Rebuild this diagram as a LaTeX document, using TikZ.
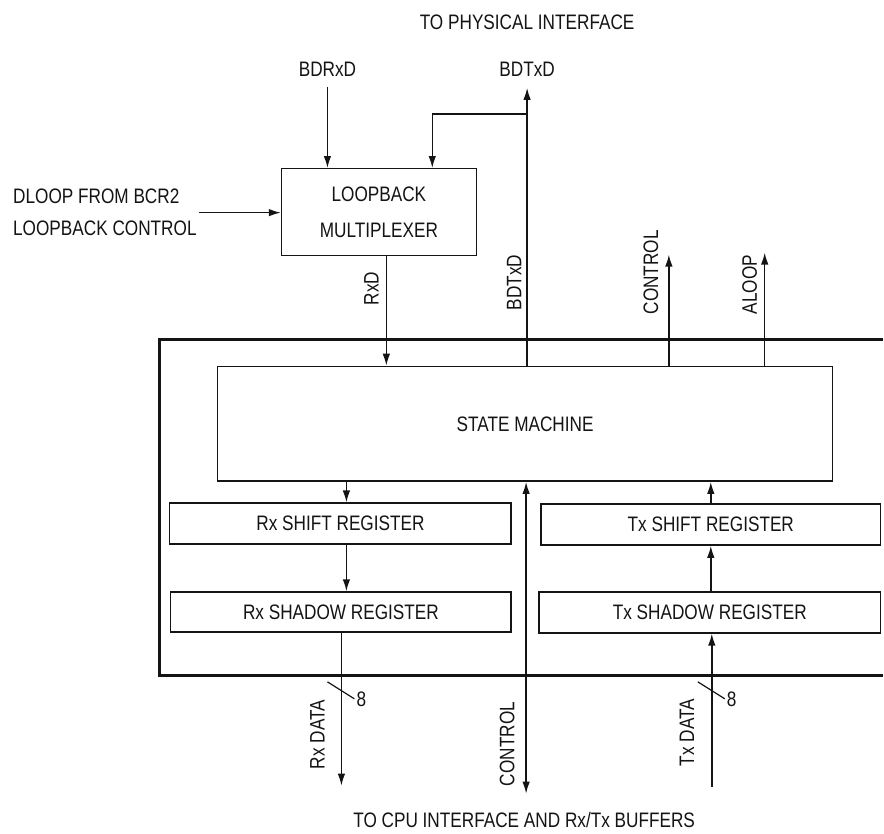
\documentclass[tikz,border=0pt]{standalone}
\usepackage{fontspec}
\setmainfont{Liberation Sans}[FakeStretch=0.82]
\usetikzlibrary{arrows.meta,calc,positioning}
\definecolor{blkInk}{HTML}{141414}

\begin{document}
\begin{tikzpicture}[x=1pt,y=-1pt,>={Latex[length=12pt,width=7.5pt]},line cap=butt,line join=miter]
\path[fill=white] (0,0) rectangle (884,835);
\tikzset{wire/.style={draw=blkInk,line width=1.5pt},arr/.style={wire,->},dblarr/.style={wire,<->},frame/.style={draw=blkInk,line width=3pt},blk/.style={draw=blkInk,line width=1.4pt,fill=white,inner sep=0pt,font=\fontsize{21}{36}\selectfont,text=blkInk,align=center},lbl/.style={inner sep=0pt,font=\fontsize{21}{32}\selectfont,text=blkInk,align=left},vlbl/.style={lbl,rotate=90}}
% outer frame, open on the right
\draw[frame] (884,340) -- (160,340) -- (160,677) -- (884,677);
% blocks
\node[blk,minimum width=195pt,minimum height=87pt] (mux) at (379.5,212.5) {LOOPBACK\\MULTIPLEXER};
\node[blk,minimum width=616pt,minimum height=115pt] (sm) at (526,424.5) {STATE MACHINE};
\node[blk,minimum width=342pt,minimum height=41pt] (rxsh) at (341,524.5) {Rx SHIFT REGISTER};
\node[blk,minimum width=341pt,minimum height=40pt] (rxsd) at (341.5,613) {Rx SHADOW REGISTER};
\node[blk,minimum width=340pt,minimum height=41pt] (txsh) at (712,525.5) {Tx SHIFT REGISTER};
\node[blk,minimum width=342pt,minimum height=41pt] (txsd) at (711,613.5) {Tx SHADOW REGISTER};
% texts
\node[lbl] (phys) at (528,22) {TO PHYSICAL INTERFACE};
\node[lbl] (cpu) at (525,821) {TO CPU INTERFACE AND Rx/Tx BUFFERS};
\node[lbl] (bdrxd) at (328,69) {BDRxD};
\node[lbl] (bdtxd) at (528,69) {BDTxD};
\node[lbl,anchor=west] (dloop) at (13,197) {DLOOP FROM BCR2};
\node[lbl,anchor=west] (lbctl) at (13,229) {LOOPBACK CONTROL};
\node[vlbl,anchor=west] (rxdlbl) at (372,306) {RxD};
\node[vlbl,anchor=west] (bdtxdv) at (515,311) {BDTxD};
\node[vlbl,anchor=west] (ctltop) at (652,315) {CONTROL};
\node[vlbl,anchor=west] (aloop) at (751,315) {ALOOP};
\node[vlbl,anchor=east] (rxdata) at (318,701) {Rx DATA};
\node[vlbl,anchor=east] (ctlbot) at (508,703) {CONTROL};
\node[vlbl,anchor=east] (txdata) at (688,700) {Tx DATA};
\node[lbl,anchor=west] (rxw) at (357,700) {8};
\node[lbl,anchor=west] (txw) at (728,700) {8};
% free ends and bus positions
\coordinate (rxin) at (328,87);
\coordinate (txout) at (528,88);
\coordinate (tap) at (528,114);
\coordinate (lbk) at (433,0);
\coordinate (dlin) at (199,213);
\coordinate (rxd) at (387,0);
\coordinate (ctlup) at (670,255);
\coordinate (alup) at (766,253);
\coordinate (rxbus) at (347,0);
\coordinate (rxout) at (342,787);
\coordinate (ctlend) at (527,795);
\coordinate (txin) at (713,788);
% connectors
\draw[arr] (rxin) -- (rxin |- mux.north);
\draw[arr] (txout |- sm.north) -- (txout);
\draw[arr] (tap) -| (lbk |- mux.north);
\draw[arr] (dlin) -- (dlin -| mux.west);
\draw[arr] (rxd |- mux.south) -- (rxd |- sm.north);
\draw[arr] (ctlup |- sm.north) -- (ctlup);
\draw[arr] (alup |- sm.north) -- (alup);
\draw[arr] (rxbus |- sm.south) -- (rxbus |- rxsh.north);
\draw[arr] (rxbus |- rxsh.south) -- (rxbus |- rxsd.north);
\draw[arr] (rxout |- rxsd.south) -- (rxout);
\draw[dblarr] (ctlend) -- (ctlend |- sm.south);
\draw[arr] (txsd.north -| txsh.south) -- (txsh.south);
\draw[arr] (txsh.north) -- (txsh.north |- sm.south);
\draw[arr] (txin) -- (txin |- txsd.south);
% bus width ticks
\draw[wire,line width=1.2pt] (328,683) -- (355,700);
\draw[wire,line width=1.2pt] (699,683) -- (726,700);
\end{tikzpicture}
\end{document}
